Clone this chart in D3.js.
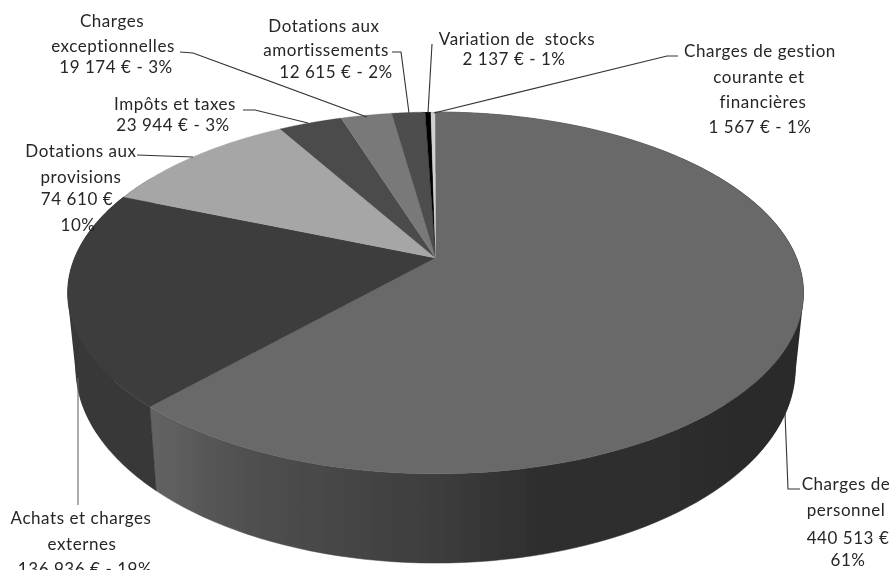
<!DOCTYPE html>
<html><head><meta charset="utf-8">
<script src="https://cdn.jsdelivr.net/npm/d3@7"></script>
<style>
html,body{margin:0;padding:0;background:#fff;overflow:hidden}
svg{display:block}
text{font-family:Lato,"Open Sans",sans-serif;font-size:17px;letter-spacing:0.55px;fill:#262626;text-anchor:middle;white-space:pre}
</style></head><body>
<svg id="c" width="894" height="570"></svg>
<script>
// ---- data
const categories = ["Charges de personnel","Achats et charges externes","Dotations aux provisions","Impôts et taxes","Charges exceptionnelles","Dotations aux amortissements","Variation de stocks","Charges de gestion courante et financières"];
const values = [440513,136936,74610,23944,19174,12615,2137,1567];
const labelLines = [
 ["Charges de","personnel","440 513 €","61%"],
 ["Achats et charges","externes","136 936 € - 19%"],
 ["Dotations aux","provisions","74 610 €","10%"],
 ["Impôts et taxes","23 944 € - 3%"],
 ["Charges","exceptionnelles","19 174 € - 3%"],
 ["Dotations aux","amortissements","12 615 € - 2%"],
 ["Variation de  stocks","2 137 € - 1%"],
 ["Charges de gestion","courante et","financières","1 567 € - 1%"]
];
// ---- layout & style (separate from data)
const topColors = ["#696969","#3d3d3d","#a6a6a6","#4b4b4b","#797979","#4e4e4e","#050505","#cfcfcf"];
const labelPos = [
 [[846,490],[846,516],[848,544],[848,566]],
 [[81,524],[82,550],[85,575]],
 [[81,157],[81,183],[77,205],[78,231]],
 [[175,110],[173,131]],
 [[112,27],[113,52],[116,73]],
 [[324,32],[326,56],[336,78]],
 [[517,45],[514,65]],
 [[760,57],[759,83],[763,108],[760,133]]
];
const leaders = [
 [[785,413],[788,489],[800,489]],
 [[78,378],[78,505]],
 [[137,155],[193,157]],
 [[243,110],[255,110],[308,123]],
 [[180,52],[193,53],[367,117]],
 [[392,52],[401,52],[409,113]],
 [[432,44],[428,113]],
 [[678,56],[667,56],[434,113]]
];
const leaderColors = ["#333","#666","#333","#333","#333","#333","#333","#333"];
const sideStops = [[157,"#626262"],[230,"#525252"],[330,"#474747"],[430,"#3e3e3e"],[530,"#2f2f2f"],[800,"#2b2b2b"]];

const svg = d3.select("#c");
const defs = svg.append("defs");
defs.append("filter").attr("id","soft").append("feGaussianBlur").attr("stdDeviation",0.4);
const g = defs.append("linearGradient").attr("id","sideP").attr("gradientUnits","userSpaceOnUse")
  .attr("x1",157).attr("x2",800).attr("y1",0).attr("y2",0);
const off = d3.scaleLinear().domain([157,800]).range([0,1]);
sideStops.forEach(s=>g.append("stop").attr("offset",off(s[0])).attr("stop-color",s[1]));

// perspective projection of the disc
const cx=435.6, cy=258, A=361, B=174.2, P=0.193, D=72, SHR=0.978;
const deg = Math.PI/180;
const topPt = a => { const u=Math.sin(a), v=-Math.cos(a), w=1-P*v; return [cx+A*u/w, cy+B*v/w]; };
const botPt = a => { const t=topPt(a), v=-Math.cos(a), w=1-P*v; return [cx+(t[0]-cx)*SHR, t[1]+D/w]; };
const start = -0.1*deg;
const arcs = d3.pie().sort(null).startAngle(start).endAngle(start+2*Math.PI)(values);
const samples = (a0,a1) => d3.range(0,121).map(i=>a0+(a1-a0)*i/120);
const line = d3.line();
const root = svg.append("g").attr("filter","url(#soft)");

// silhouette fill: tangent between the top and bottom rims, left and right
const sideFill = ["url(#sideP)","#373737"];
[[50*deg,130*deg,sideFill[0]],[240*deg,300*deg,sideFill[1]]].forEach(r=>{
  const s=samples(r[0],r[1]);
  root.append("path").attr("d",line(d3.polygonHull(s.map(topPt).concat(s.map(botPt))))+"Z").attr("fill",r[2]);
});

// side walls (only the two front-facing slices show)
root.selectAll("path.side").data(arcs.slice(0,2)).join("path").attr("class","side")
  .attr("d",d=>{const s=samples(d.startAngle,d.endAngle);
     return line(s.map(topPt).concat(s.slice().reverse().map(botPt)))+"Z";})
  .attr("fill",(d,i)=>sideFill[i]).attr("stroke",(d,i)=>sideFill[i]).attr("stroke-width",0.5);

// top faces
root.selectAll("path.top").data(arcs).join("path").attr("class","top")
  .attr("d",d=>line([[cx,cy]].concat(samples(d.startAngle,d.endAngle).map(topPt)))+"Z")
  .attr("fill",(d,i)=>topColors[i]).attr("stroke",(d,i)=>topColors[i]).attr("stroke-width",0.3);

// leaders
root.selectAll("path.lead").data(leaders).join("path").attr("class","lead")
  .attr("d",d=>line(d)).attr("fill","none").attr("stroke",(d,i)=>leaderColors[i]).attr("stroke-width",1.1);

// labels
categories.forEach((c,i)=>{
  const t=root.append("g").attr("aria-label",c);
  labelLines[i].forEach((s,j)=>t.append("text").attr("x",labelPos[i][j][0]).attr("y",labelPos[i][j][1]).text(s));
});
</script></body></html>
